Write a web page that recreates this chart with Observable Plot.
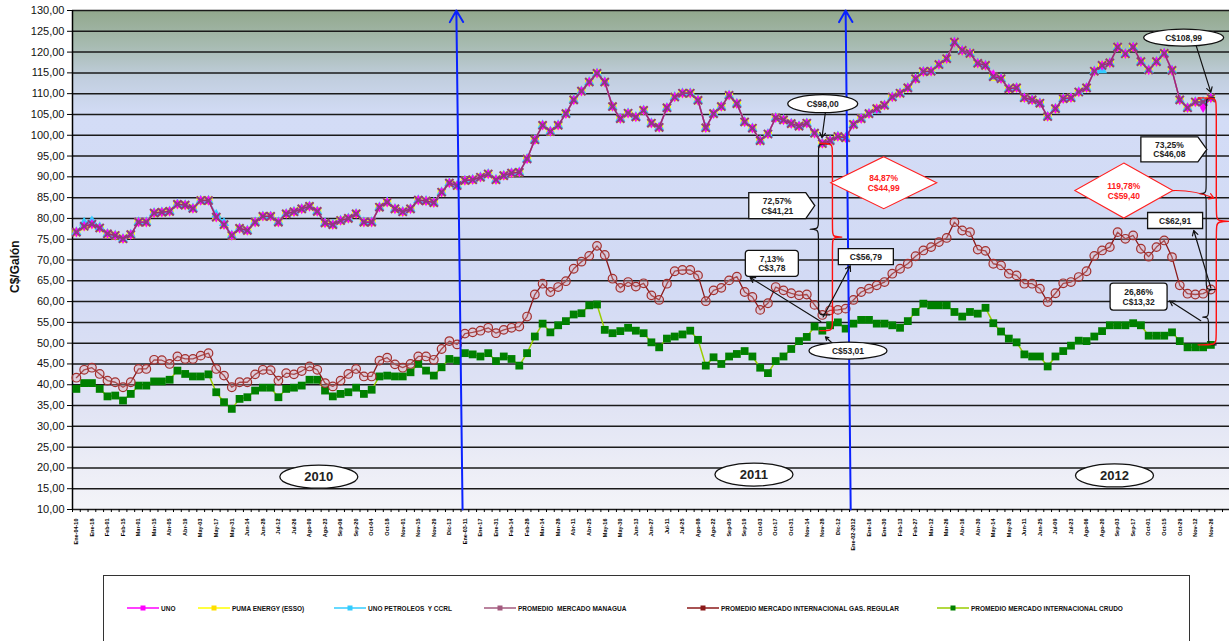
<!DOCTYPE html>
<html><head><meta charset="utf-8">
<script src="https://cdn.jsdelivr.net/npm/d3@7"></script>
<script src="https://cdn.jsdelivr.net/npm/@observablehq/plot@0.6"></script>
<style>
body{margin:0;background:#fff;font-family:"Liberation Sans",Arial,sans-serif;}
#wrap{position:relative;width:1229px;height:641px;overflow:hidden;background:#fff;}
#legend{position:absolute;left:103px;top:575px;width:1085px;height:90px;border:1.5px solid #333;background:#fff;}
.item{position:absolute;top:26px;height:12px;display:flex;align-items:center;font-size:6.5px;font-weight:bold;white-space:pre;color:#111;}
.item svg{margin-right:2px;}
</style></head><body><div id="wrap"><div id="chart"></div><div id="legend"></div></div>
<script>
// ---------- DATA ----------
const xLabels = ["Ene-04-10","Ene-18","Feb-01","Feb-15","Mar-01","Mar-15","Abr-05","Abr-19","May-03","May-17","May-31","Jun-14","Jun-28","Jul-12","Jul-26","Ago-09","Ago-23","Sep-06","Sep-20","Oct-04","Oct-18","Nov-01","Nov-15","Nov-29","Dic-13",
"Ene-03-11","Ene-17","Ene-31","Feb-14","Feb-28","Mar-14","Mar-28","Abr-11","Abr-25","May-16","May-30","Jun-13","Jun-27","Jul-11","Jul-25","Ago-08","Ago-22","Sep-05","Sep-19","Oct-03","Oct-17","Oct-31","Nov-14","Nov-28","Dic-12",
"Ene-02-2012","Ene-16","Ene-30","Feb-13","Feb-27","Mar-12","Mar-26","Abr-16","Abr-30","May-14","May-28","Jun-11","Jun-25","Jul-09","Jul-23","Ago-06","Ago-20","Sep-03","Sep-17","Oct-01","Oct-15","Oct-29","Nov-12","Nov-26"];

const managua = [76.7,78.1,78.6,77.7,76.3,75.9,75.1,76.1,79.1,79.1,
81.3,81.5,81.7,83.4,83.2,82.4,84.3,84.3,80.3,78.5,
75.9,77.6,77.1,79.1,80.5,80.5,79.1,81.1,81.6,82.3,
82.9,81.7,78.9,78.5,79.5,80.0,81.1,79.1,79.1,82.7,
83.9,82.3,81.6,82.3,84.4,84.2,83.8,86.3,88.5,87.9,
89.1,89.3,89.9,90.7,89.3,90.3,90.9,91.1,94.3,98.9,
102.4,100.9,102.4,105.2,108.5,110.6,112.8,114.9,112.8,106.9,
104.0,105.3,104.4,106.0,102.9,101.9,106.6,109.2,110.1,110.1,
108.4,101.8,105.2,106.9,109.6,107.6,103.2,101.7,98.7,100.3,
104.2,103.7,102.8,102.2,102.9,100.5,98.0,98.7,99.7,99.4,
102.6,104.0,105.2,106.4,107.2,109.2,110.1,111.4,113.6,115.3,
115.4,117.0,118.4,122.4,120.4,119.7,117.3,116.8,114.1,113.6,
111.2,111.4,109.0,108.5,107.7,104.5,106.4,108.8,109.0,110.4,
111.4,115.4,116.8,117.4,121.2,119.6,121.2,117.7,115.7,117.7,
119.7,115.6,108.5,106.6,108.0,108.0,108.99];

const puma = [76.7,78.1,78.6,77.7,76.3,75.9,75.1,76.1,79.1,79.1,
81.3,81.5,81.7,83.4,83.2,82.4,84.3,84.3,80.3,78.5,
75.9,77.6,77.1,79.1,80.5,80.5,79.1,81.1,81.6,82.3,
82.9,81.7,78.9,78.5,79.5,80.0,81.1,79.1,79.1,82.7,
83.9,82.3,81.6,82.3,84.4,84.2,83.8,86.3,88.5,87.9,
89.1,89.3,89.9,90.7,89.3,90.3,90.9,91.1,94.3,98.9,
102.4,100.9,102.4,105.2,108.5,110.6,112.8,114.9,112.8,106.9,
104.0,105.3,104.4,106.0,102.9,101.9,106.6,109.2,110.1,110.1,
108.4,101.8,105.2,106.9,109.6,107.6,103.2,101.7,98.7,100.3,
104.2,103.7,102.8,102.2,102.9,100.5,98.0,98.7,99.7,99.4,
102.6,104.0,105.2,106.4,107.2,109.2,110.1,111.4,113.6,115.3,
115.4,117.0,118.4,122.4,120.4,119.7,117.3,116.8,114.1,113.6,
111.2,111.4,109.0,108.5,107.7,104.5,106.4,108.8,109.0,110.4,
111.4,115.4,116.8,117.4,121.2,119.6,121.2,117.7,115.7,117.7,
119.7,115.6,108.5,106.6,108.0,108.0,108.99];

const uno = [76.7,78.1,78.6,77.7,76.3,75.9,75.1,76.1,79.1,79.1,
81.3,81.5,81.7,83.4,83.2,82.4,84.3,84.3,80.3,78.5,
75.9,77.6,77.1,79.1,80.5,80.5,79.1,81.1,81.6,82.3,
82.9,81.7,78.9,78.5,79.5,80.0,81.1,79.1,79.1,82.7,
83.9,82.3,81.6,82.3,84.4,84.2,83.8,86.3,88.5,87.9,
89.1,89.3,89.9,90.7,89.3,90.3,90.9,91.1,94.3,98.9,
102.4,100.9,102.4,105.2,108.5,110.6,112.8,114.9,112.8,106.9,
104.0,105.3,104.4,106.0,102.9,101.9,106.6,109.2,110.1,110.1,
108.4,101.8,105.2,106.9,109.6,107.6,103.2,101.7,98.7,100.3,
104.2,103.7,102.8,102.2,102.9,100.5,98.0,98.7,99.7,99.4,
102.6,104.0,105.2,106.4,107.2,109.2,110.1,111.4,113.6,115.3,
115.4,117.0,118.4,122.4,120.4,119.7,117.3,116.8,114.6,113.6,
111.2,111.4,109.0,108.5,107.7,104.5,106.4,108.8,109.0,110.4,
111.4,115.4,116.8,117.4,121.2,119.6,121.2,117.7,115.7,117.7,
119.7,115.6,108.5,106.6,108.0,106.6,108.99];

const unoPetroleos = [76.7,79.0,79.3,77.9,76.3,75.9,75.1,76.1,79.1,79.1,
81.3,81.5,81.7,83.4,83.2,82.4,84.3,84.3,80.9,78.9,
75.9,77.6,77.1,79.1,80.5,80.5,79.1,81.1,81.6,82.3,
82.9,81.7,78.9,78.5,79.5,80.0,81.1,79.1,79.1,82.7,
83.9,82.3,81.6,82.3,84.4,84.2,83.8,86.3,88.5,87.9,
89.1,89.3,89.9,90.7,89.3,90.3,90.9,91.1,94.3,98.9,
102.4,100.9,102.4,105.2,108.5,110.6,112.8,114.9,112.8,106.9,
104.0,105.3,104.4,106.0,102.9,101.9,106.6,109.2,110.1,110.1,
108.4,101.8,105.2,106.9,109.6,107.6,103.2,101.7,98.7,100.3,
104.2,103.7,102.8,102.2,102.9,100.5,98.0,98.7,99.7,99.4,
102.6,104.0,105.2,106.0,107.2,109.2,110.1,111.4,113.6,115.3,
115.4,117.0,118.4,122.4,120.4,119.7,117.3,116.8,114.1,113.6,
111.2,111.4,109.0,108.5,107.7,104.5,106.4,108.8,109.0,110.4,
111.4,115.4,115.6,117.4,121.2,119.6,121.2,117.7,115.7,117.7,
119.7,115.6,108.5,106.6,108.0,108.0,108.99];

const gasRegular = [41.7,43.6,44.1,42.6,41.0,40.6,39.4,40.6,43.8,43.8,
46.0,45.9,45.0,46.8,46.2,46.2,47.0,47.6,43.8,42.2,
39.4,40.6,40.6,42.5,43.6,43.5,41.0,42.8,42.5,43.3,
44.4,43.6,40.4,39.6,41.0,42.6,43.8,42.0,42.0,45.8,
46.5,44.9,44.1,45.0,46.8,46.8,46.0,48.6,50.5,49.7,
52.3,52.6,53.0,53.7,52.4,53.2,53.7,54.0,56.4,61.7,
64.3,62.3,63.5,64.9,67.9,69.6,71.0,73.4,71.2,65.5,
63.3,64.7,63.6,64.4,61.5,60.4,64.3,67.3,67.6,67.6,
66.3,60.1,62.7,63.3,65.1,66.0,62.3,61.1,58.0,59.6,
63.5,62.7,62.0,61.5,61.7,59.2,56.79,57.9,58.0,58.3,
60.4,62.3,63.1,63.9,64.7,66.7,67.9,69.1,70.9,72.3,
73.1,74.3,75.3,79.1,77.1,76.7,72.5,72.2,69.1,68.7,
66.7,66.3,64.3,64.3,63.1,59.9,62.0,64.4,64.7,65.9,
67.3,71.0,72.3,73.1,76.7,75.1,75.9,72.7,70.8,73.1,
74.7,70.7,63.9,61.9,61.7,61.9,62.91];

const crude = [39.0,40.4,40.4,39.0,37.2,37.4,36.2,37.8,39.8,39.8,
40.8,40.8,41.2,43.4,42.6,42.0,42.0,42.5,38.2,35.8,
34.2,36.6,37.0,38.6,39.3,39.3,37.0,39.0,39.3,39.8,
41.2,41.2,38.6,37.2,37.8,38.2,39.3,37.8,38.8,42.0,
42.2,42.0,42.0,43.0,45.0,43.4,42.2,44.2,46.2,45.8,
47.6,47.3,46.8,47.6,45.7,46.8,46.2,44.6,47.6,51.6,
54.7,52.6,54.3,55.3,56.9,57.2,59.1,59.3,53.2,52.4,
52.9,53.7,53.0,52.4,50.2,49.0,51.1,51.6,52.1,53.0,
50.8,44.6,46.6,45.0,46.8,47.4,48.1,46.8,44.1,42.8,
45.7,46.8,48.6,50.5,51.5,54.0,53.01,54.3,55.0,53.5,
54.7,55.6,55.6,54.7,54.7,54.3,53.7,55.3,57.5,59.5,
59.1,59.1,59.1,57.5,56.4,57.5,57.1,58.5,54.8,52.8,
51.1,50.2,47.3,46.8,46.8,44.4,46.8,48.1,49.4,50.6,
50.5,51.6,52.9,54.3,54.3,54.3,54.8,54.3,51.8,51.8,
51.8,52.6,50.5,49.0,49.0,49.0,49.59];

const legendLabels = ["UNO","PUMA ENERGY (ESSO)","UNO PETROLEOS  Y CCRL","PROMEDIO  MERCADO MANAGUA","PROMEDIO MERCADO INTERNACIONAL GAS. REGULAR","PROMEDIO MERCADO INTERNACIONAL CRUDO"];
const yearLabels = ["2010","2011","2012"];
const yearAt = [[31.2,17.9],[87.2,18.4],[133.6,18.2]];

// callouts: text and anchor (index, value)
const calloutText = ["C$98,00","84,87%\nC$44,99","72,57%\nC$41,21","7,13%\nC$3,78","C$56,79","C$53,01","C$108,99","73,25%\nC$46,08","119,78%\nC$59,40","C$62,91","26,86%\nC$13,32"];
const calloutAt = [[96.05,107.6],[103.9,88.6],[90.2,83.1],[89.5,69.2],[101.6,70.8],[99.3,48.2],[142.5,123.5],[140.66,96.6],[134.8,86.7],[141.4,79.5],[136.7,61.2]];
const calloutShape = ["ellipse","diamond","pentagon","roundrect","rect","ellipse","ellipse","pentagon","diamond","rect","roundrect"];

// arrows in data coords [x1,y1,x2,y2]
const blackArrows = [[96.4,105.6,95.95,99.4],[95.8,55.2,86.7,65.8],[96.1,56.3,99.6,68.6],[97.4,49.8,96.4,51.5],[144.1,121.6,146.0,110.3],[146.0,63.3,143.8,77.1],[144.7,55.4,140.7,60.2]];
const redArrows = [[141.1,86.7,146.4,84.9]];
const blueArrows = [[49.7,10,48.9,130],[99.65,10,99.0,130]];
// braces: [x, top value, bottom value, tip offset (index units)]
const blackBraces = [[95.5,98.0,56.79,-1.6],[145.4,108.99,62.91,-1.2],[145.7,62.91,49.59,-1.1]];
const redBraces = [[97.3,98.0,53.01,1.8],[146.7,108.99,49.59,2.6]];

// ---------- BUILD ----------
const rows = d3.range(managua.length).map(i => ({i, managua: managua[i], puma: puma[i], uno: uno[i], unoPet: unoPetroleos[i], gas: gasRegular[i], crude: crude[i]}));
const yTicks = d3.range(10, 131, 5);
const fmt = d => d.toFixed(2).replace(".", ",");

function bracePts([x0, yt, yb, dx]) {
  const ym = (yt + yb) / 2, e = -dx * 0.9, d = 1.2;
  return [[x0+e,yt],[x0,yt],[x0,yt-d],[x0,ym+d],[x0,ym],[x0+dx,ym],[x0,ym],[x0,ym-d],[x0,yb+d],[x0,yb],[x0+e,yb]];
}

const shapeDims = {
  "C$98,00":[70,18],"84,87%\nC$44,99":[106,52],"72,57%\nC$41,21":[57,26,9],"7,13%\nC$3,78":[53,26],"C$56,79":[55,16],
  "C$53,01":[78,17],"C$108,99":[80,17],"73,25%\nC$46,08":[57,25,9],"119,78%\nC$59,40":[98,55],"C$62,91":[55,16],"26,86%\nC$13,32":[57,27]
};
function shapeSymbol(kind, w, h, t) {
  return {draw(ctx) {
    const a = w/2, b = h/2;
    if (kind === "ellipse") {
      const k = 0.5523;
      ctx.moveTo(a,0);
      ctx.bezierCurveTo(a,k*b,k*a,b,0,b);
      ctx.bezierCurveTo(-k*a,b,-a,k*b,-a,0);
      ctx.bezierCurveTo(-a,-k*b,-k*a,-b,0,-b);
      ctx.bezierCurveTo(k*a,-b,a,-k*b,a,0);
      ctx.closePath();
    } else if (kind === "diamond") {
      ctx.moveTo(0,-b); ctx.lineTo(a,0); ctx.lineTo(0,b); ctx.lineTo(-a,0); ctx.closePath();
    } else if (kind === "rect") {
      ctx.moveTo(-a,-b); ctx.lineTo(a,-b); ctx.lineTo(a,b); ctx.lineTo(-a,b); ctx.closePath();
    } else if (kind === "roundrect") {
      const r = 3;
      ctx.moveTo(-a+r,-b); ctx.lineTo(a-r,-b); ctx.arcTo(a,-b,a,-b+r,r); ctx.lineTo(a,b-r); ctx.arcTo(a,b,a-r,b,r);
      ctx.lineTo(-a+r,b); ctx.arcTo(-a,b,-a,b-r,r); ctx.lineTo(-a,-b+r); ctx.arcTo(-a,-b,-a+r,-b,r); ctx.closePath();
    } else if (kind === "pentagon") {
      ctx.moveTo(-a,-b); ctx.lineTo(a,-b); ctx.lineTo(a+t,0); ctx.lineTo(a,b); ctx.lineTo(-a,b); ctx.closePath();
    }
  }};
}

function gradientDefs() {
  const defs = document.createElementNS("http://www.w3.org/2000/svg", "defs");
  defs.innerHTML = `<linearGradient id="bg" x1="0" y1="0" x2="0" y2="1">
    <stop offset="0" stop-color="#92a88d"/><stop offset="0.07" stop-color="#a7bbb1"/>
    <stop offset="0.14" stop-color="#c2cfe0"/><stop offset="0.21" stop-color="#d3dcf6"/>
    <stop offset="0.55" stop-color="#d2daf4"/><stop offset="0.8" stop-color="#e1e4f4"/>
    <stop offset="1" stop-color="#f4f4f8"/></linearGradient>`;
  return defs;
}

const calloutMarks = calloutText.map((t, k) => {
  const [w, h, tip] = shapeDims[t];
  const red = calloutShape[k] === "diamond";
  const d = [{i: calloutAt[k][0], v: calloutAt[k][1], t}];
  return [
    Plot.dot(d, {x: "i", y: "v", r: 1, symbol: shapeSymbol(calloutShape[k], w, h, tip), fill: "white", stroke: red ? "#ff2020" : "#111", strokeWidth: red ? 1.1 : 1.3}),
    Plot.text(d, {x: "i", y: "v", text: "t", fontSize: 8.5, fontWeight: "bold", lineHeight: 1.15, fill: red ? "#ff2020" : "#222"})
  ];
});

const chart = Plot.plot({
  width: 1229, height: 570,
  marginTop: 10, marginBottom: 61, marginLeft: 72, marginRight: 0,
  x: {type: "linear", domain: [-0.5, 148.4], axis: null},
  y: {domain: [10, 130], axis: null},
  style: {fontFamily: "'Liberation Sans', Arial, sans-serif", background: "transparent", overflow: "visible"},
  marks: [
    gradientDefs,
    Plot.frame({fill: "url(#bg)", stroke: null}),
    Plot.ruleY(yTicks, {stroke: "#1a1a1a", strokeWidth: 1.5}),
    Plot.ruleX([-0.5], {stroke: "#000", strokeWidth: 1.5}),
    Plot.axisY({ticks: yTicks, tickFormat: fmt, tickSize: 5, tickPadding: 3, fontSize: 11, label: null, fill: "#111"}),
    Plot.axisX({ticks: d3.range(-0.5, 149, 1), text: null, tickSize: 3, label: null}),
    Plot.axisX({ticks: d3.range(0, xLabels.length * 2, 2), tickFormat: i => xLabels[i / 2], tickRotate: -90, tickSize: 0, tickPadding: 9, fontSize: 5.5, fontWeight: "bold", label: null}),
    Plot.text(["C$/Galón"], {frameAnchor: "left", dx: -57, dy: 33, rotate: -90, fontSize: 12, fontWeight: "bold", fill: "#111"}),
    // year ellipses
    Plot.dot(yearAt, {x: d => d[0], y: d => d[1], r: 1, symbol: shapeSymbol("ellipse", 78, 23), fill: "white", stroke: "#111", strokeWidth: 1.3}),
    Plot.text(yearAt, {x: d => d[0], y: d => d[1], text: (d, k) => yearLabels[k], fontSize: 13, fontWeight: "bold", fill: "#222"}),
    // series: crude
    Plot.line(rows, {x: "i", y: "crude", stroke: "#99cc00", strokeWidth: 1.5}),
    Plot.dot(rows, {x: "i", y: "crude", symbol: "square", r: 4.4, fill: "#008000"}),
    // gas regular
    Plot.line(rows, {x: "i", y: "gas", stroke: "#8b1a1a", strokeWidth: 1.3}),
    Plot.dot(rows, {x: "i", y: "gas", r: 4.3, stroke: "#a3302e", strokeWidth: 1.2, fill: "#e0a8b0", fillOpacity: 0.35}),
    // retail series
    Plot.line(rows, {x: "i", y: "puma", stroke: "#ffff00", strokeWidth: 1.5}),
    Plot.dot(rows, {x: "i", y: "puma", symbol: "square", r: 4.6, fill: "#ffff00"}),
    Plot.line(rows, {x: "i", y: "unoPet", stroke: "#33ccff", strokeWidth: 1.5}),
    Plot.dot(rows, {x: "i", y: "unoPet", symbol: "triangle", r: 3.8, fill: "#33ccff"}),
    Plot.line(rows, {x: "i", y: "uno", stroke: "#ff00ff", strokeWidth: 1.5}),
    Plot.dot(rows, {x: "i", y: "uno", symbol: "diamond", r: 3.2, fill: "#ff00ff"}),
    Plot.line(rows, {x: "i", y: "managua", stroke: "#993366", strokeWidth: 1.4}),
    Plot.dot(rows, {x: "i", y: "managua", symbol: "times", r: 3.8, stroke: "#8e3a80", strokeWidth: 2}),
    // blue arrows
    Plot.arrow(blueArrows, {x1: d => d[0], y1: d => d[1], x2: d => d[2], y2: d => d[3], stroke: "#0a22ff", strokeWidth: 2, headLength: 10}),
    // braces
    blackBraces.map(b => Plot.line(bracePts(b), {x: d => d[0], y: d => d[1], curve: "basis", stroke: "#111", strokeWidth: 1.2})),
    redBraces.map(b => Plot.line(bracePts(b), {x: d => d[0], y: d => d[1], curve: "basis", stroke: "#ff1010", strokeWidth: 1.4})),
    // arrows
    Plot.arrow(blackArrows, {x1: d => d[0], y1: d => d[1], x2: d => d[2], y2: d => d[3], stroke: "#111", strokeWidth: 1.2, headLength: 7}),
    Plot.arrow(redArrows, {x1: d => d[0], y1: d => d[1], x2: d => d[2], y2: d => d[3], bend: 12, stroke: "#ff1010", strokeWidth: 1.2, headLength: 7}),
    calloutMarks
  ]
});
document.getElementById("chart").appendChild(chart);

// legend
const legendLeft = [23, 94, 230, 380, 583, 833];
const legendLine = ["#ff00ff", "#ffff00", "#33ccff", "#a35a7e", "#8b1a1a", "#99cc00"];
const legendMark = ["#ff00ff", "#ffdd00", "#33ccff", "#a35a7e", "#8b1a1a", "#008000"];
const lg = document.getElementById("legend");
legendLabels.forEach((t, k) => {
  const div = document.createElement("div");
  div.className = "item";
  div.style.left = legendLeft[k] + "px";
  div.innerHTML = `<svg width="32" height="8"><line x1="0" y1="4" x2="32" y2="4" stroke="${legendLine[k]}" stroke-width="1.5"/><rect x="13.5" y="1.5" width="5" height="5" fill="${legendMark[k]}"/></svg>${t}`;
  lg.appendChild(div);
});
</script>
</body></html>
